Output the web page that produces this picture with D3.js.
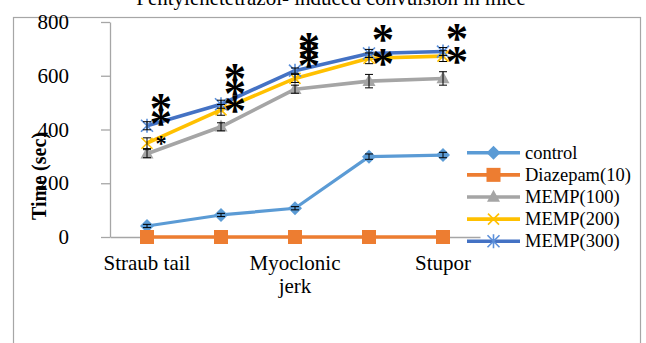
<!DOCTYPE html>
<html><head><meta charset="utf-8">
<script src="https://cdn.jsdelivr.net/npm/d3@7"></script>
<style>body{margin:0;background:#fff}svg{display:block}
.serif{font-family:"Liberation Serif","DejaVu Serif",serif}
</style></head>
<body><svg id="c" width="646" height="343"></svg>
<script>
// ---- data ----
const title = "Pentylenetetrazol- induced convulsion in mice";
const yTitle = "Time (sec)";
const tickLabels = ["Straub tail", "", "Myoclonic jerk", "", "Stupor"];
const yTicks = [0, 200, 400, 600, 800];
const seriesNames = ["control", "Diazepam(10)", "MEMP(100)", "MEMP(200)", "MEMP(300)"];
const control  = [41, 82, 107, 299, 305];
const diazepam = [0, 0, 0, 0, 0];
const memp100  = [310, 410, 550, 580, 590];
const memp200  = [349, 473, 590, 665, 673];
const memp300  = [414, 494, 619, 683, 690];
const controlErr  = [6, 6, 6, 10, 10];
const diazepamErr = [0, 0, 0, 0, 0];
const memp100Err  = [15, 15, 15, 25, 25];
const memp200Err  = [20, 20, 15, 20, 20];
const memp300Err  = [15, 15, 10, 15, 15];
// significance asterisks: category index, value level, big/small
const sigCat = [0, 0, 0, 1, 1, 1, 2, 2, 2, 3, 3, 4, 4];
const sigVal = [499, 446, 357, 614, 558, 495, 726, 696, 659, 759, 670, 763, 677];
const sigBig = [1, 1, 0, 1, 1, 1, 1, 1, 1, 1, 1, 1, 1];

// ---- layout / style ----
const colors = ["#5b9bd5", "#ed7d31", "#a5a5a5", "#ffc000", "#4472c4"];
const markers = ["diamond", "square", "triangle", "x", "star"];
const values = [control, diazepam, memp100, memp200, memp300];
const errs = [controlErr, diazepamErr, memp100Err, memp200Err, memp300Err];
const serifFont = '"Liberation Serif", "DejaVu Serif", serif';
const axisColor = "#a6a6a6";

const svg = d3.select("#c");
svg.append("rect").attr("x", 13.5).attr("y", 17.5).attr("width", 627).attr("height", 340)
  .attr("fill", "none").attr("stroke", "#a6a6a6").attr("stroke-width", 1.2);

svg.append("text").attr("class", "serif").attr("x", 331).attr("y", 5).attr("text-anchor", "middle")
  .attr("font-size", 21).text(title);

const x = d3.scaleBand().domain(d3.range(tickLabels.length)).range([110, 480]);
const y = d3.scaleLinear().domain([0, 800]).range([237, 22]);
const cx = i => x(i) + x.bandwidth() / 2;

// y axis
const ya = svg.append("g").attr("transform", "translate(110,0)")
  .call(d3.axisLeft(y).tickValues(yTicks).tickSize(9).tickSizeOuter(0).tickPadding(32));
ya.attr("font-family", null);
ya.select(".domain").attr("stroke", axisColor).attr("stroke-width", 1.3);
ya.selectAll(".tick line").attr("stroke", axisColor).attr("stroke-width", 1.3);
ya.selectAll(".tick text").attr("class", "serif").attr("font-size", 21).attr("fill", "#000");

// x axis
const xa = svg.append("g").attr("transform", "translate(0,237)")
  .call(d3.axisBottom(x).tickSize(0).tickSizeOuter(0).tickFormat(() => ""));
xa.attr("font-family", null);
xa.select(".domain").attr("stroke", axisColor).attr("stroke-width", 1.3);
xa.selectAll(".tick").each(function (d) {
  const lab = tickLabels[d];
  if (!lab) return;
  const words = lab === "Myoclonic jerk" ? ["Myoclonic", "jerk"] : [lab];
  const t = d3.select(this).select("text").attr("y", 0).attr("dy", null).attr("class", "serif")
    .attr("font-size", 21).attr("fill", "#000");
  words.forEach((w, k) => t.append("tspan").attr("x", 0).attr("y", 33 + k * 23).text(w));
});

// y title
svg.append("text").attr("class", "serif").attr("transform", "translate(46,176) rotate(-90)")
  .attr("text-anchor", "middle").attr("font-weight", "bold")
  .attr("font-size", 20).text(yTitle);

// marker drawing
function drawMarker(g, type, color, px, py) {
  if (type === "diamond") {
    const r = 7;
    g.append("path").attr("d", `M${px},${py - r}L${px + r},${py}L${px},${py + r}L${px - r},${py}Z`).attr("fill", color);
  } else if (type === "square") {
    const s = 14;
    g.append("rect").attr("x", px - s / 2).attr("y", py - s / 2).attr("width", s).attr("height", s).attr("fill", color);
  } else if (type === "triangle") {
    const w = 13, h = 12;
    g.append("path").attr("d", `M${px},${py - h * 0.6}L${px + w / 2},${py + h * 0.4}L${px - w / 2},${py + h * 0.4}Z`).attr("fill", color);
  } else if (type === "x") {
    const r = 5.5;
    g.append("path").attr("d", `M${px - r},${py - r}L${px + r},${py + r}M${px - r},${py + r}L${px + r},${py - r}`)
      .attr("stroke", color).attr("stroke-width", 1.6);
  } else if (type === "star") {
    const r = 6;
    g.append("path").attr("d", `M${px - r},${py - r}L${px + r},${py + r}M${px - r},${py + r}L${px + r},${py - r}M${px},${py - r - 1}L${px},${py + r + 1}`)
      .attr("stroke", "#5b8fd9").attr("stroke-width", 1.6);
  }
}

const line = d3.line().x((d, i) => cx(i)).y(d => y(d));
const gS = svg.append("g");
values.forEach((vals, s) => {
  gS.append("path").datum(vals).attr("d", line).attr("fill", "none")
    .attr("stroke", colors[s]).attr("stroke-width", s === 0 ? 3.2 : 3.6).attr("stroke-linejoin", "round");
  vals.forEach((v, i) => drawMarker(gS, markers[s], colors[s], cx(i), y(v)));
});

// error bars
const gE = svg.append("g").attr("stroke", "#000").attr("stroke-width", 1);
values.forEach((vals, s) => {
  vals.forEach((v, i) => {
    const e = errs[s][i];
    if (!e) return;
    const px = cx(i);
    gE.append("line").attr("x1", px).attr("x2", px).attr("y1", y(v - e)).attr("y2", y(v + e));
    gE.append("line").attr("x1", px - 4).attr("x2", px + 4).attr("y1", y(v + e)).attr("y2", y(v + e));
    gE.append("line").attr("x1", px - 4).attr("x2", px + 4).attr("y1", y(v - e)).attr("y2", y(v - e));
  });
});

// significance asterisks (ink-centred using canvas metrics)
const ctx = document.createElement("canvas").getContext("2d");
ctx.font = "bold 100px " + serifFont;
const m = ctx.measureText("*");
const inkH = m.actualBoundingBoxAscent + m.actualBoundingBoxDescent;
const inkCy = (m.actualBoundingBoxAscent - m.actualBoundingBoxDescent) / 2;
const inkCx = (m.actualBoundingBoxRight - m.actualBoundingBoxLeft) / 2;
sigCat.forEach((c, k) => {
  const target = sigBig[k] ? 17 : 8.5;
  const fs = 100 * target / inkH;
  const px = cx(c) + 14, py = y(sigVal[k]);
  svg.append("text").attr("class", "serif").attr("font-weight", "bold")
    .attr("x", px - inkCx * fs / 100).attr("y", py + inkCy * fs / 100)
    .attr("font-size", fs).attr("fill", "#000").text("*");
});

// legend
const lg = svg.append("g");
seriesNames.forEach((name, s) => {
  const ly = 152.7 + s * 22.15;
  lg.append("line").attr("x1", 467).attr("x2", 520).attr("y1", ly).attr("y2", ly)
    .attr("stroke", colors[s]).attr("stroke-width", 3.6);
  drawMarker(lg, markers[s], colors[s], 493.5, ly);
  lg.append("text").attr("class", "serif").attr("x", 525).attr("y", ly).attr("dy", "0.32em")
    .attr("font-size", 18.5).text(name);
});
</script>
</body></html>
